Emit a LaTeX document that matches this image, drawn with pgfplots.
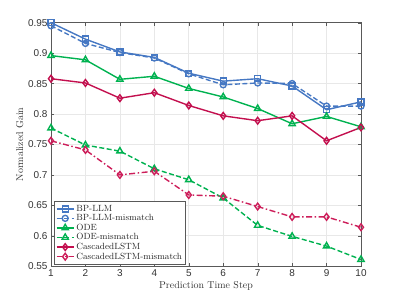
\documentclass[border=0pt]{standalone}
\usepackage{pgfplots}
\pgfplotsset{compat=1.18}
\usepackage{fontspec}
\newfontfamily\tickfont{Liberation Sans}
\definecolor{cblue}{RGB}{70,120,195}
\definecolor{cgreen}{RGB}{0,178,80}
\definecolor{cred}{RGB}{195,15,78}
\definecolor{cred2}{RGB}{205,30,90}
\begin{document}
\begin{tikzpicture}
\begin{axis}[
  name=ax,
  scale only axis,
  width=310bp, height=243.5bp,
  xmin=1, xmax=10, ymin=0.55, ymax=0.95,
  xtick={1,...,10},
  ytick={0.55,0.6,...,0.951},
  yticklabels={0.55,0.6,0.65,0.7,0.75,0.8,0.85,0.9,0.95},
  tick align=inside,
  tick pos=both,
  major tick length=3bp,
  grid=major,
  grid style={gray!18, line width=0.6pt},
  axis line style={black!65, line width=0.6pt},
  tick style={black!65},
  tick label style={font=\tickfont\fontsize{10}{12}\selectfont, text=black!80},
  /pgf/number format/assume math mode=true,
  xlabel={Prediction Time Step},
  ylabel={Normalized Gain},
  label style={font=\fontsize{10}{12}\selectfont, text=black!80},
  xlabel style={yshift=2bp},
  ylabel style={yshift=-2bp},
  legend style={at={(rel axis cs:0.01,0.007)}, anchor=south west,
    font=\fontsize{9}{10}\selectfont, draw=black!65, line width=0.8pt, row sep=-2.2bp,
    inner sep=1.5bp, text=black!85},
  legend cell align=left,
  every axis plot/.append style={line width=1.4pt, mark size=3bp},
  mydash/.style={dash pattern=on 5bp off 2.5bp},
  mydashdot/.style={dash pattern=on 6bp off 2.5bp on 1.5bp off 2.5bp},
]
\addplot[cblue, mark=square, mark options={solid, fill=none}] coordinates {
(1,0.950)(2,0.923)(3,0.902)(4,0.893)(5,0.867)(6,0.854)(7,0.858)(8,0.846)(9,0.807)(10,0.820)};
\addlegendentry{BP-LLM}
\addplot[cblue, mydash, mark=o, mark options={solid, fill=none}] coordinates {
(1,0.945)(2,0.916)(3,0.901)(4,0.892)(5,0.866)(6,0.848)(7,0.851)(8,0.850)(9,0.813)(10,0.813)};
\addlegendentry{BP-LLM-mismatch}
\addplot[cgreen, mark=triangle, mark size=3.6bp, mark options={solid, fill=none}] coordinates {
(1,0.896)(2,0.889)(3,0.857)(4,0.862)(5,0.842)(6,0.828)(7,0.809)(8,0.784)(9,0.796)(10,0.779)};
\addlegendentry{ODE}
\addplot[cgreen, mydash, mark=triangle, mark size=3.6bp, mark options={solid, fill=none}] coordinates {
(1,0.777)(2,0.749)(3,0.739)(4,0.710)(5,0.692)(6,0.662)(7,0.617)(8,0.599)(9,0.583)(10,0.561)};
\addlegendentry{ODE-mismatch}
\addplot[cred, mark=diamond, mark size=3.4bp, mark options={solid, fill=none}] coordinates {
(1,0.858)(2,0.851)(3,0.826)(4,0.835)(5,0.814)(6,0.797)(7,0.789)(8,0.797)(9,0.756)(10,0.778)};
\addlegendentry{CascadedLSTM}
\addplot[cred2, mydashdot, mark=diamond, mark size=3.4bp, mark options={solid, fill=none}] coordinates {
(1,0.756)(2,0.741)(3,0.700)(4,0.706)(5,0.667)(6,0.665)(7,0.648)(8,0.631)(9,0.631)(10,0.614)};
\addlegendentry{CascadedLSTM-mismatch}
\end{axis}
\path (ax.south west) ++(-51bp,-33bp) coordinate (bl);
\path (ax.north east) ++(38bp,22.7bp) coordinate (tr);
\path[use as bounding box] (bl) rectangle (tr);
\end{tikzpicture}
\end{document}
